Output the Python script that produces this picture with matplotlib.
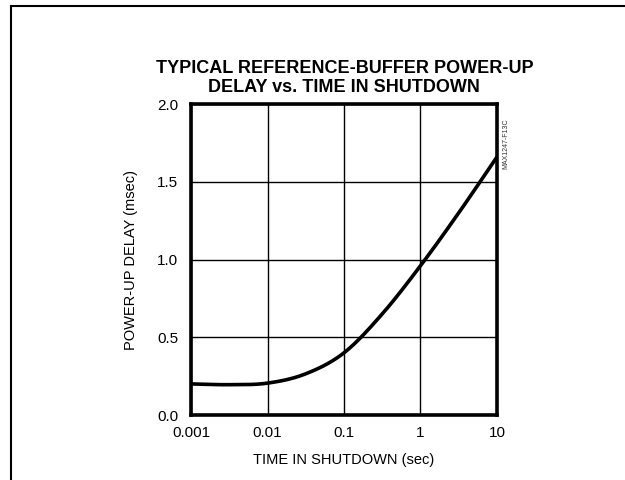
import numpy as np
import matplotlib
matplotlib.use("Agg")
import matplotlib.pyplot as plt
from matplotlib.lines import Line2D

# power-up delay curve, read at half-decade steps
shutdown_time = [0.001, 0.00316, 0.01, 0.0316, 0.1, 0.316, 1.0, 3.16, 10.0]
delay_ms = [0.20, 0.195, 0.205, 0.265, 0.40, 0.65, 0.96, 1.30, 1.66]

x_ticks = [0.001, 0.01, 0.1, 1, 10]
x_labels = ["0.001", "0.01", "0.1", "1", "10"]
y_ticks = [0.0, 0.5, 1.0, 1.5, 2.0]
y_labels = ["0.0", "0.5", "1.0", "1.5", "2.0"]

plt.rcParams["font.family"] = ["Liberation Sans", "DejaVu Sans"]


def catmull_rom(px, py, n=40):
    # smooth curve through the points (uniform Catmull-Rom)
    px = np.concatenate([[2 * px[0] - px[1]], px, [2 * px[-1] - px[-2]]])
    py = np.concatenate([[2 * py[0] - py[1]], py, [2 * py[-1] - py[-2]]])
    xs, ys = [], []
    t = np.linspace(0, 1, n, endpoint=False)
    for i in range(1, len(px) - 2):
        for arr, out in ((px, xs), (py, ys)):
            p0, p1, p2, p3 = arr[i - 1], arr[i], arr[i + 1], arr[i + 2]
            out.extend(0.5 * (2 * p1 + (-p0 + p2) * t
                              + (2 * p0 - 5 * p1 + 4 * p2 - p3) * t ** 2
                              + (-p0 + 3 * p1 - 3 * p2 + p3) * t ** 3))
    xs.append(px[-2])
    ys.append(py[-2])
    return np.array(xs), np.array(ys)


fig = plt.figure(figsize=(6.25, 4.8), dpi=100)
ax = fig.add_axes([0.3056, 0.1354, 0.4896, 0.6479])

lx, ly = catmull_rom(np.log10(shutdown_time), np.array(delay_ms))
ax.plot(10 ** lx, ly, color="black", lw=2.6, solid_capstyle="butt")

ax.set_xscale("log")
ax.set_xlim(0.001, 10)
ax.set_ylim(0, 2.0)
ax.set_xticks(x_ticks)
ax.set_xticklabels(x_labels)
ax.set_yticks(y_ticks)
ax.set_yticklabels(y_labels)
ax.minorticks_off()
ax.tick_params(axis="x", length=0, labelsize=11, pad=8)
ax.tick_params(axis="y", length=0, labelsize=11, pad=9)
ax.grid(True, color="black", lw=1.0)
for s in ax.spines.values():
    s.set_linewidth(2.6)

ax.set_xlabel("TIME IN SHUTDOWN (sec)", fontsize=10.5, labelpad=9)
ax.set_ylabel("POWER-UP DELAY (msec)", fontsize=10.5, labelpad=14)

fig.text(0.551, 0.838, "TYPICAL REFERENCE-BUFFER POWER-UP\nDELAY vs. TIME IN SHUTDOWN",
         ha="center", va="center", fontsize=13, fontweight="bold", linespacing=1.15)
fig.text(0.809, 0.70, "MAX1247-F13C", rotation=90, fontsize=5, ha="center", va="center",
         color="#333333")

# page frame along top and left
fig.add_artist(Line2D([0.0168, 1.0], [0.9885, 0.9885], color="black", lw=1.5))
fig.add_artist(Line2D([0.0168, 0.0168], [0.0, 0.9885], color="black", lw=1.5))

fig.savefig("out.png", dpi=100)
